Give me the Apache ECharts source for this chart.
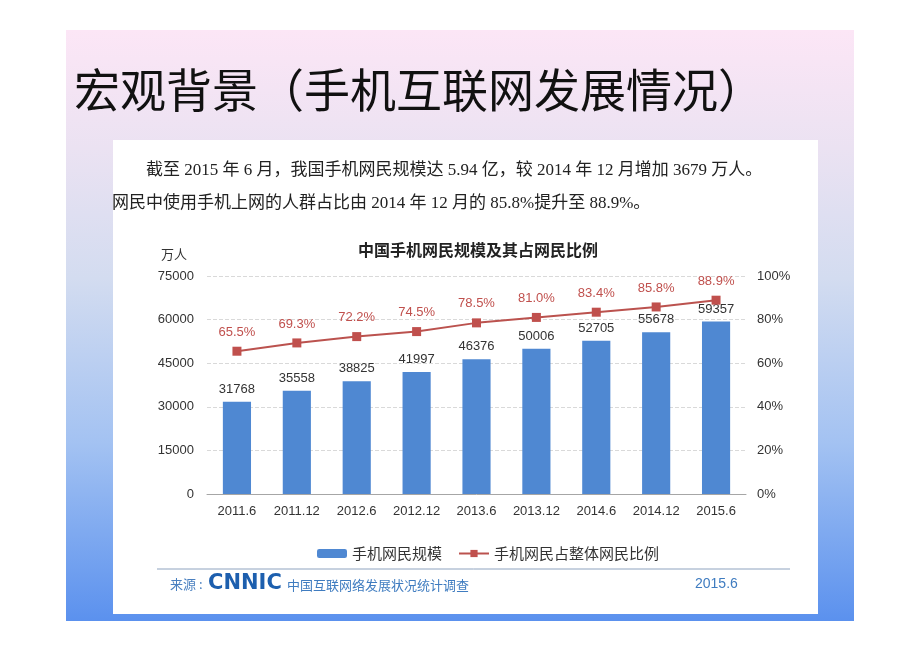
<!DOCTYPE html>
<html>
<head>
<meta charset="utf-8">
<script src="https://cdn.jsdelivr.net/npm/echarts@6/dist/echarts.min.js"></script>
<style>
html,body{margin:0;padding:0;background:#fff;}
#c{width:920px;height:651px;}
</style>
</head>
<body>
<div id="c"></div>
<script>
var categories = ['2011.6','2011.12','2012.6','2012.12','2013.6','2013.12','2014.6','2014.12','2015.6'];
var users = [31768, 35558, 38825, 41997, 46376, 50006, 52705, 55678, 59357];
var share = [65.5, 69.3, 72.2, 74.5, 78.5, 81.0, 83.4, 85.8, 88.9];
var leftTicks = {min: 0, max: 75000, interval: 15000};
var rightTicks = {min: 0, max: 100, interval: 20};

var CJK = '"Noto Sans CJK SC", sans-serif';
var SERIF = '"Liberation Serif", "Noto Sans CJK SC", serif';
var SANS = '"Liberation Sans", Arial, "Noto Sans CJK SC", sans-serif';

var chart = echarts.init(document.getElementById('c'), null, {renderer: 'canvas'});
chart.setOption({
  animation: false,
  textStyle: {fontFamily: SANS},
  graphic: [
    {type: 'rect', z: -10, shape: {x: 66, y: 30, width: 788, height: 591},
      style: {fill: new echarts.graphic.LinearGradient(0, 0, 0, 1, [
        {offset: 0, color: '#fce6f6'},
        {offset: 0.2, color: '#ebe2f2'},
        {offset: 0.42, color: '#d3dcf0'},
        {offset: 0.7, color: '#a3c2f2'},
        {offset: 1, color: '#5b91ee'}
      ])}},
    {type: 'rect', z: -9, shape: {x: 113, y: 140, width: 705, height: 474}, style: {fill: '#ffffff'}},
    {type: 'text', x: 74, y: 90, style: {text: '宏观背景（手机互联网发展情况）', font: '46px ' + CJK, fill: '#111', verticalAlign: 'middle'}},
    {type: 'text', x: 146, y: 171, style: {text: '截至 2015 年 6 月，我国手机网民规模达 5.94 亿，较 2014 年 12 月增加 3679 万人。', font: '17px ' + SERIF, fill: '#222', verticalAlign: 'middle'}},
    {type: 'text', x: 112, y: 204, style: {text: '网民中使用手机上网的人群占比由 2014 年 12 月的 85.8%提升至 88.9%。', font: '17px ' + SERIF, fill: '#222', verticalAlign: 'middle'}},
    {type: 'text', x: 478, y: 250, style: {text: '中国手机网民规模及其占网民比例', font: 'bold 16px ' + CJK, fill: '#222', align: 'center', verticalAlign: 'middle'}},
    {type: 'text', x: 161, y: 254, style: {text: '万人', font: '13px ' + CJK, fill: '#333', verticalAlign: 'middle'}},
    {type: 'line', shape: {x1: 157, y1: 569, x2: 790, y2: 569}, style: {stroke: '#8ea3bf', lineWidth: 1}},
    {type: 'text', x: 170, y: 584, style: {text: '来源 :', font: '13px ' + CJK, fill: '#4a80c0', verticalAlign: 'middle'}},
    {type: 'text', x: 208, y: 584, style: {text: 'CNNIC', font: 'bold 21px "DejaVu Sans", sans-serif', fill: '#1d5fae', verticalAlign: 'middle'}},
    {type: 'text', x: 287, y: 585, style: {text: '中国互联网络发展状况统计调查', font: '13px ' + CJK, fill: '#3f7cc0', verticalAlign: 'middle'}},
    {type: 'text', x: 695, y: 584, style: {text: '2015.6', font: '14px ' + SANS, fill: '#3f7cc0', verticalAlign: 'middle'}}
  ],
  legend: {
    left: 312, top: 541,
    itemGap: 16, itemWidth: 30, itemHeight: 9,
    textStyle: {fontSize: 15, color: '#333', fontFamily: CJK},
    data: ['手机网民规模', '手机网民占整体网民比例']
  },
  grid: {left: 207, right: 174, top: 276, bottom: 157, containLabel: false},
  xAxis: {
    type: 'category', data: categories,
    axisLine: {lineStyle: {color: '#a6a6a6'}},
    axisTick: {show: false},
    axisLabel: {color: '#333', fontSize: 13, margin: 11, interval: 0}
  },
  yAxis: [
    {type: 'value', min: leftTicks.min, max: leftTicks.max, interval: leftTicks.interval,
      axisLabel: {color: '#333', fontSize: 13, margin: 13, formatter: function (v) { return String(v); }},
      axisLine: {show: false}, axisTick: {show: false},
      splitLine: {lineStyle: {color: '#d9d9d9', type: 'dashed'}}},
    {type: 'value', min: rightTicks.min, max: rightTicks.max, interval: rightTicks.interval,
      axisLabel: {color: '#333', fontSize: 13, margin: 11, formatter: '{value}%'},
      axisLine: {show: false}, axisTick: {show: false},
      splitLine: {show: false}}
  ],
  series: [
    {name: '手机网民规模', type: 'bar', data: users, barWidth: '47%',
      itemStyle: {color: '#4f88d2'},
      label: {show: true, position: 'top', color: '#333', fontSize: 13, distance: 6}},
    {name: '手机网民占整体网民比例', type: 'line', yAxisIndex: 1, data: share,
      symbol: 'rect', symbolSize: 9,
      lineStyle: {color: '#bb524e', width: 2},
      itemStyle: {color: '#c0504d'},
      label: {show: true, position: 'top', distance: 8, color: '#c0504d', fontSize: 13,
        formatter: function (p) { return p.value.toFixed(1) + '%'; }}}
  ]
});
</script>
</body>
</html>
